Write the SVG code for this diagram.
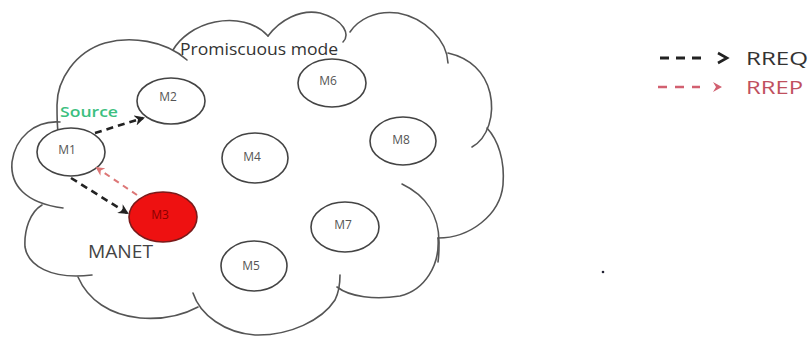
<svg xmlns="http://www.w3.org/2000/svg" width="808" height="337" viewBox="0 0 808 337">
<style>
.cloud{fill:none;stroke:#555;stroke-width:1.6;stroke-linecap:round}
.node{fill:#fff;stroke:#444;stroke-width:1.6}
.lbl{font-family:"Open Sans","DejaVu Sans",sans-serif;font-size:12px;fill:#555;text-anchor:middle}
.req{fill:none;stroke:#222;stroke-width:2.6;stroke-dasharray:7 5}
.rep{fill:none;stroke:#d77;stroke-width:2;stroke-dasharray:6 5}
</style>
<defs>
<marker id="ah" viewBox="0 0 10 10" refX="8" refY="5" markerWidth="4" markerHeight="4" orient="auto" markerUnits="strokeWidth">
<path d="M0,0 L10,5 L0,10 L3,5 Z" fill="#222"/>
</marker>
<marker id="ahr" viewBox="0 0 10 10" refX="8" refY="5" markerWidth="4.5" markerHeight="4.5" orient="auto" markerUnits="strokeWidth">
<path d="M0,0 L10,5 L0,10 L3,5 Z" fill="#d77"/>
</marker>
</defs>
<rect width="808" height="337" fill="#fff"/>
<g id="cloud">
<path class="cloud" d="M187,60 C165,40 130,36 105,43 C75,52 57,80 57,105 C57,115 57,124 58,132"/>
<path class="cloud" d="M60,122 C35,120 15,138 12,162 C10,185 25,203 63,208"/>
<path class="cloud" d="M42,205 C30,212 24,230 25,247 C28,265 50,280 92,275"/>
<path class="cloud" d="M78,277 C88,300 110,315 140,318 C165,320 185,314 198,307"/>
<path class="cloud" d="M193,293 C200,315 225,333 255,335 C290,336 322,320 335,300 C339,292 340,282 340,275"/>
<path class="cloud" d="M337,287 C350,297 375,300 400,296 C425,290 440,265 438,238"/>
<path class="cloud" d="M402,184 C425,195 440,215 439,245 C439,255 438,262 438,262"/>
<path class="cloud" d="M438,238 C470,238 500,215 503,185 C505,160 498,140 487,128"/>
<path class="cloud" d="M472,147 C488,138 495,115 490,93 C485,72 470,58 448,53"/>
<path class="cloud" d="M448,63 C447,40 425,18 398,13 C375,10 358,20 350,32"/>
<path class="cloud" d="M343,42 C350,35 345,20 320,13 C300,9 280,20 268,36"/>
<path class="cloud" d="M268,36 C255,22 235,18 215,22 C195,26 180,38 173,50"/>
</g>
<g id="labels">
<text x="180" y="55" font-family="'Open Sans','DejaVu Sans',sans-serif" font-size="16" fill="#333" textLength="158" lengthAdjust="spacingAndGlyphs">Promiscuous mode</text>
<text x="60" y="117" font-family="'Open Sans','DejaVu Sans',sans-serif" font-size="15" font-weight="600" fill="#3cbf80" textLength="58" lengthAdjust="spacingAndGlyphs">Source</text>
<text x="88" y="258" font-family="'Open Sans','DejaVu Sans',sans-serif" font-size="19" fill="#444" textLength="65" lengthAdjust="spacingAndGlyphs">MANET</text>
</g>
<g id="M1"><ellipse class="node" cx="71" cy="152" rx="34" ry="24"/><text class="lbl" x="67" y="154">M1</text></g>
<g id="M2"><ellipse class="node" cx="171" cy="101" rx="34" ry="23"/><text class="lbl" x="168" y="101">M2</text></g>
<g id="M6"><ellipse class="node" cx="332" cy="83" rx="34" ry="24"/><text class="lbl" x="328" y="85">M6</text></g>
<g id="M4"><ellipse class="node" cx="255" cy="158" rx="33" ry="25"/><text class="lbl" x="252" y="161">M4</text></g>
<g id="M8"><ellipse class="node" cx="403" cy="141" rx="33" ry="24"/><text class="lbl" x="401" y="144">M8</text></g>
<g id="M3"><ellipse cx="163" cy="217" rx="34" ry="25" fill="#ee1111" stroke="#7a1a1a" stroke-width="1.6"/><text class="lbl" x="160" y="219" style="fill:#8a0000">M3</text></g>
<g id="M7"><ellipse class="node" cx="345" cy="227" rx="34" ry="25"/><text class="lbl" x="343" y="229">M7</text></g>
<g id="M5"><ellipse class="node" cx="254" cy="266" rx="33" ry="25"/><text class="lbl" x="251" y="270">M5</text></g>
<g id="connectors">
<path class="req" d="M95,133 L143,118" marker-end="url(#ah)"/>
<path class="req" d="M71,178 L127,213" marker-end="url(#ah)"/>
<path class="rep" d="M137,195 L97,168" marker-end="url(#ahr)"/>
</g>
<g id="legend">
<path d="M660,58 L701,58" fill="none" stroke="#222" stroke-width="2.8" stroke-dasharray="9 7"/>
<path d="M718,53 L727,58 L718,63" fill="none" stroke="#222" stroke-width="2.6"/>
<text x="746" y="65" font-family="'Open Sans','DejaVu Sans',sans-serif" font-size="18" fill="#333" textLength="62" lengthAdjust="spacingAndGlyphs">RREQ</text>
<path d="M658,87 L700,87" fill="none" stroke="#d26070" stroke-width="2.6" stroke-dasharray="9 8"/>
<path d="M713,82 L722,87 L713,92 L716,87 Z" fill="#d26070"/>
<text x="746" y="94" font-family="'Open Sans','DejaVu Sans',sans-serif" font-size="18" fill="#c0505e" textLength="57" lengthAdjust="spacingAndGlyphs">RREP</text>
</g>
<circle cx="603" cy="272" r="1.3" fill="#223"/>
</svg>
